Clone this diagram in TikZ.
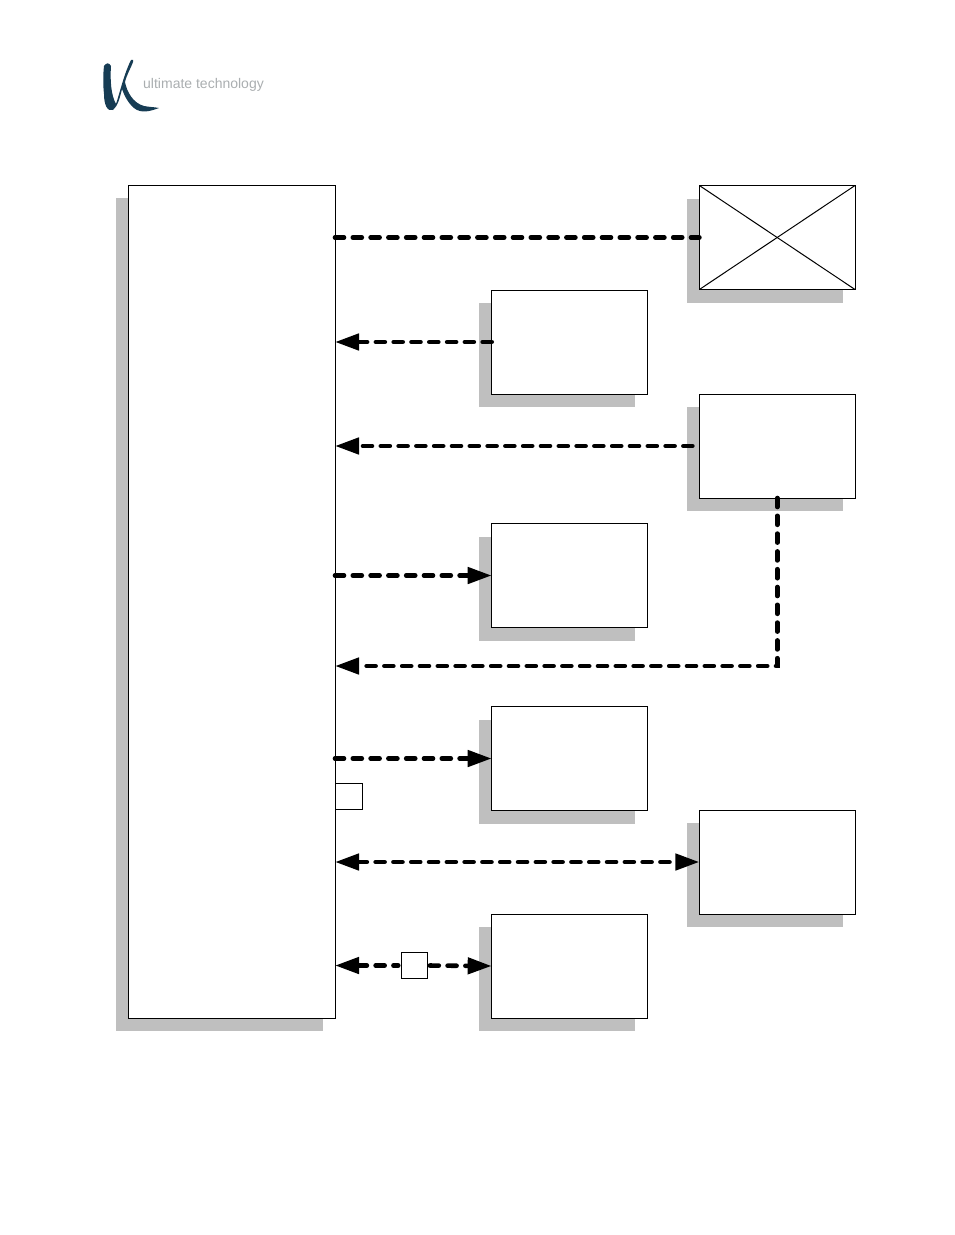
\documentclass[tikz,border=0pt]{standalone}
\usepackage{fontspec}
\setsansfont{Liberation Sans}
\usetikzlibrary{arrows.meta,shadows}
\definecolor{shadowgrey}{RGB}{191,191,191}
\definecolor{logoblue}{RGB}{22,60,84}
\definecolor{logogrey}{RGB}{170,174,176}
\tikzset{
  panel/.style={draw,fill=white,line width=1pt,inner sep=0pt,outer sep=0pt,
    drop shadow={shadow xshift=-12.5pt,shadow yshift=-13pt,fill=shadowgrey,opacity=1}},
  unit/.style={panel,minimum width=155.6pt,minimum height=104pt},
  tag/.style={draw,fill=white,line width=1pt,inner sep=0pt,outer sep=0pt,minimum size=26pt},
  link/.style={line width=4.6pt,line cap=round,dash pattern=on 9pt off 8.8pt,
    >={Triangle[length=24pt,width=16pt]}}
}
\begin{document}
\begin{tikzpicture}[x=1pt,y=-1pt]
  \useasboundingbox (0,0) rectangle (954,1235);
  \fill[logoblue] (104,66) .. controls (106,63) and (109,62) .. (111,66)
      .. controls (110,80) and (111,95) .. (116,104)
      .. controls (120,92) and (124,74) .. (131,60)
      .. controls (133,59) and (134,60) .. (133,62)
      .. controls (130,70) and (127,74) .. (125,82)
      .. controls (127,92) and (133,103) .. (144,106)
      .. controls (149,107) and (154,107) .. (159,108)
      .. controls (151,111) and (141,114) .. (134,108)
      .. controls (128,103) and (124,95) .. (122,89)
      .. controls (120,97) and (118,106) .. (113,110)
      .. controls (107,112) and (104,104) .. (104,94)
      .. controls (103,85) and (103,75) .. (104,66) -- cycle;
  \node[inner sep=0pt,text=logogrey,font=\sffamily\fontsize{14}{16}\selectfont,anchor=west] (brand) at (143,85) {ultimate technology};

  \node[panel,minimum width=207pt,minimum height=833pt] (host) at (231.5,601.5) {};
  \node[unit] (camera)  at (777.2,237.5) {};
  \node[unit] (sensor)  at (569.5,342) {};
  \node[unit] (reader)  at (777.2,446) {};
  \node[unit] (display) at (569.5,575.5) {};
  \node[unit] (printer) at (569.5,758.5) {};
  \node[unit] (modem)   at (777.2,862) {};
  \node[unit] (network) at (569.5,966) {};
  \node[tag,minimum width=27pt] (port) at (348.5,796.5) {};
  \node[tag] (bridge) at (414,965.5) {};
  \coordinate (bend) at (777.2,666);

  \draw[line width=1pt] (camera.north west) -- (camera.south east);
  \draw[line width=1pt] (camera.south west) -- (camera.north east);

  \draw[link] (host.east |- camera.west) -- (camera.west);
  \draw[link,->] (sensor.west) -- (host.east |- sensor.west);
  \draw[link,->] ([xshift=-7pt]reader.west) -- (host.east |- reader.west);
  \draw[link,->] (host.east |- display.west) -- (display.west);
  \draw[link,->] (reader.south) -- (bend) -- (host.east |- bend);
  \draw[link,->] (host.east |- printer.west) -- (printer.west);
  \draw[link,<->] (host.east |- modem.west) -- (modem.west);
  \draw[link,<-,shorten >=2.8pt] (host.east |- bridge.west) -- (bridge.west);
  \draw[link,->,shorten <=2.8pt] (bridge.east) -- (network.west);
\end{tikzpicture}
\end{document}
